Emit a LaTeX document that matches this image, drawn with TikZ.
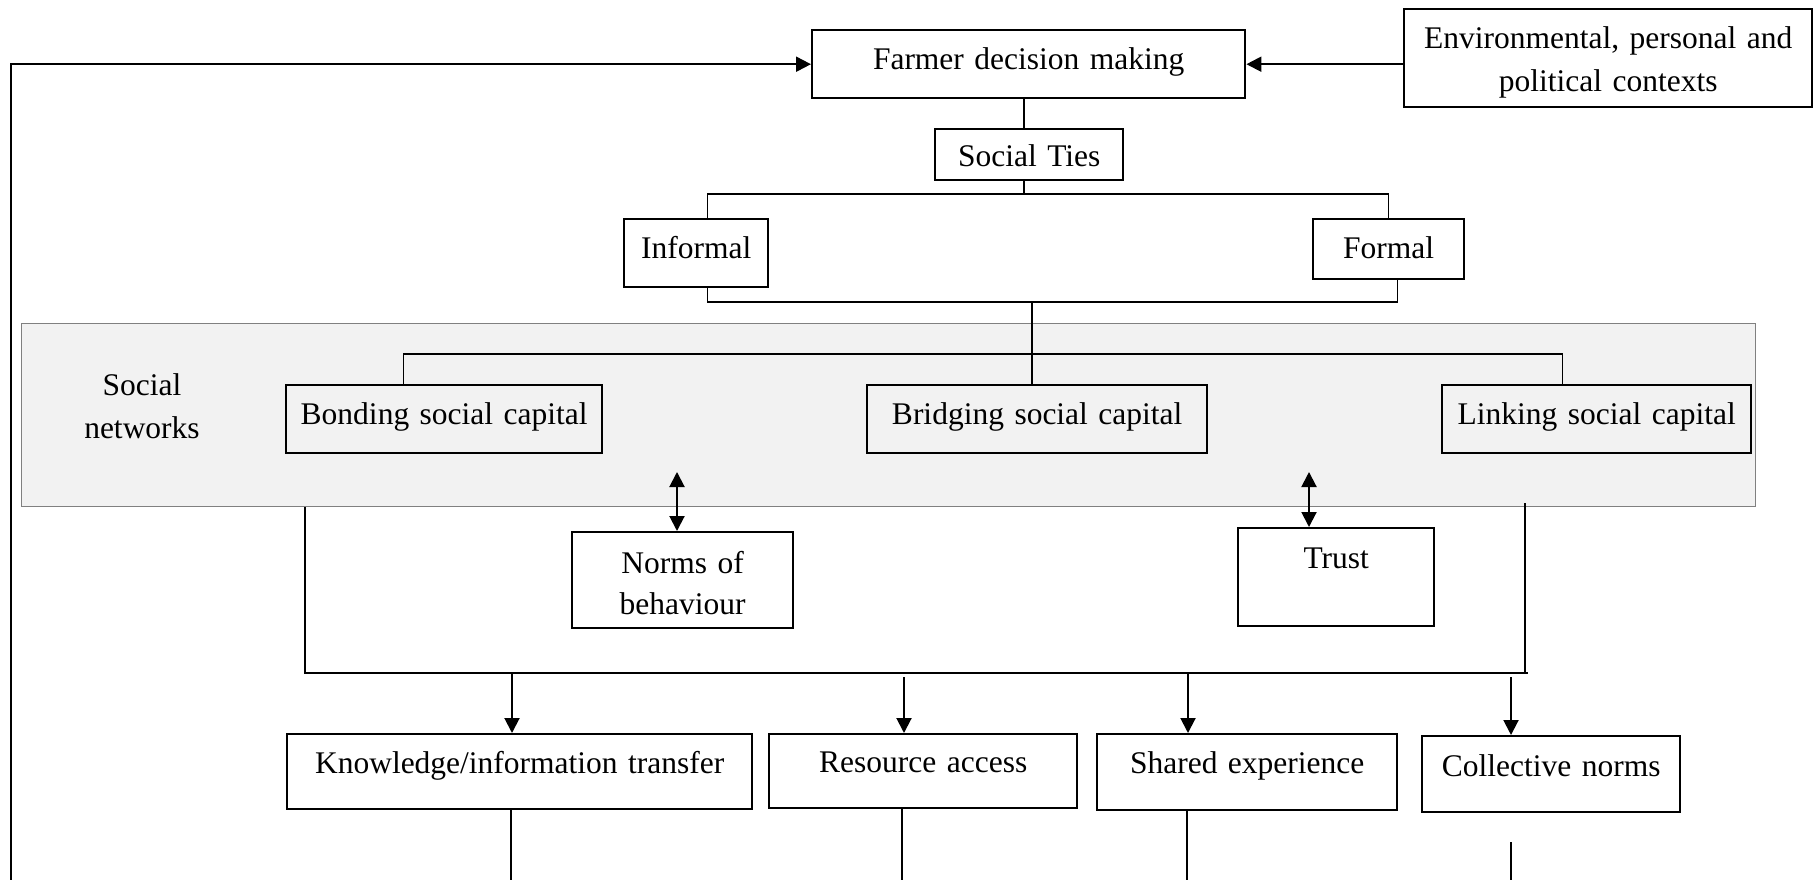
\documentclass[tikz,border=0pt]{standalone}
\usepackage{fontspec}
\setmainfont{Liberation Serif}
\usetikzlibrary{arrows.meta}

\begin{document}
\begin{tikzpicture}[x=1pt, y=-1pt,
  font=\fontsize{31.5pt}{43pt}\selectfont,
  bx/.style={draw, line width=2.4pt, inner sep=0pt, align=center, anchor=north west},
  link/.style={line width=1.4pt},
  arr/.style={line width=2pt, -{Triangle[length=15pt,width=15pt]}},
  darr/.style={line width=2pt, {Triangle[length=15pt,width=15pt]}-{Triangle[length=15pt,width=15pt]}},
  panel/.style={draw=black!50, line width=1.2pt, fill=black!5, inner sep=0pt, anchor=north west}
]
\fill[white] (0,0) rectangle (1820,880);
\useasboundingbox (0,0) rectangle (1820,880);

% shaded band of the social networks
\node[panel, minimum width=1734pt, minimum height=183pt] (netbox) at (21,323) {};
\node[anchor=base, align=center, text width=160pt] (snlabel) at (142,395) {Social\\networks};

% boxes
\node[bx, text width=433pt, text height=39pt, text depth=29pt] (farmer) at (811,29) {Farmer decision making};
\node[bx, text width=408pt, text height=39pt, text depth=59pt] (env) at (1403,8) {Environmental, personal and\\political contexts};
\node[bx, text width=188pt, text height=37pt, text depth=14pt] (ties) at (934,128) {Social Ties};
\node[bx, text width=144pt, text height=39pt, text depth=29pt] (informal) at (623,218) {Informal};
\node[bx, text width=151pt, text height=39pt, text depth=21pt] (formal) at (1312,218) {Formal};
\node[bx, text width=316pt, text height=39pt, text depth=29pt] (bonding) at (285,384) {Bonding social capital};
\node[bx, text width=340pt, text height=39pt, text depth=29pt] (bridging) at (866,384) {Bridging social capital};
\node[bx, text width=309pt, text height=39pt, text depth=29pt] (linking) at (1441,384) {Linking social capital};
\node[bx, text width=221pt, text height=41pt, text depth=55pt] (norms) at (571,531) {Norms of\\[-2pt]behaviour};
\node[bx, text width=196pt, text height=40pt, text depth=58pt] (trust) at (1237,527) {Trust};
\node[bx, text width=465pt, text height=39pt, text depth=36pt] (know) at (286,733) {Knowledge/information transfer};
\node[bx, text width=308pt, text height=38pt, text depth=36pt] (resource) at (768,733) {Resource access};
\node[bx, text width=300pt, text height=39pt, text depth=37pt] (shared) at (1096,733) {Shared experience};
\node[bx, text width=258pt, text height=40pt, text depth=36pt] (collective) at (1421,735) {Collective norms};

% junction points of the connector bars
\coordinate (bar1) at (1024,194);
\coordinate (bar2) at (1032,302);
\coordinate (bar3) at (1032,354);
\coordinate (fb) at (11,880);
\coordinate (n0) at (677,472);
\coordinate (t0) at (1309,472);
\coordinate (lowL) at (305,673);
\coordinate (lowR) at (1525,673);
\coordinate (rtop) at (1525,503);

% feedback loop and context input
\draw[arr] (fb) |- (farmer.west);
\draw[arr] (env.west |- farmer.east) -- (farmer.east);

% social ties tree
\draw[link] (farmer.south -| bar1) -- (bar1 |- ties.north);
\draw[link] (bar1 |- ties.south) -- (bar1);
\draw[link] ([xshift=11pt]informal.north) |- (bar1) -| (formal.north);
\draw[link] ([xshift=11pt]informal.south) |- (bar2) -| ([xshift=9pt]formal.south);
\draw[link] (bar2) -- (bar2 |- bridging.north);
\draw[link] ([xshift=-41pt]bonding.north) |- (bar3) -| ([xshift=-34pt]linking.north);

% norms and trust
\draw[darr] (n0) -- (n0 |- norms.north);
\draw[darr] (t0) -- (t0 |- trust.north);

% outcomes bar
\draw[link] (lowL |- netbox.south) -- (lowL) -- ([xshift=3pt]lowR);
\draw[link] (rtop) -- (lowR);

\draw[arr] (lowL -| 512,0) -- (512,0 |- know.north);
\draw[arr] (904,677) -- (904,0 |- resource.north);
\draw[arr] (lowL -| 1188,0) -- (1188,0 |- shared.north);
\draw[arr] (1511,677) -- (1511,0 |- collective.north);

% lines running on below the outcomes
\coordinate (k1) at (511,880);
\coordinate (r1) at (902,880);
\coordinate (s1) at (1187,880);
\coordinate (c1) at (1511,880);
\draw[link] (k1 |- know.south) -- (k1);
\draw[link] (r1 |- resource.south) -- (r1);
\draw[link] (s1 |- shared.south) -- (s1);
\draw[link] (1511,842) -- (c1);
\end{tikzpicture}
\end{document}
